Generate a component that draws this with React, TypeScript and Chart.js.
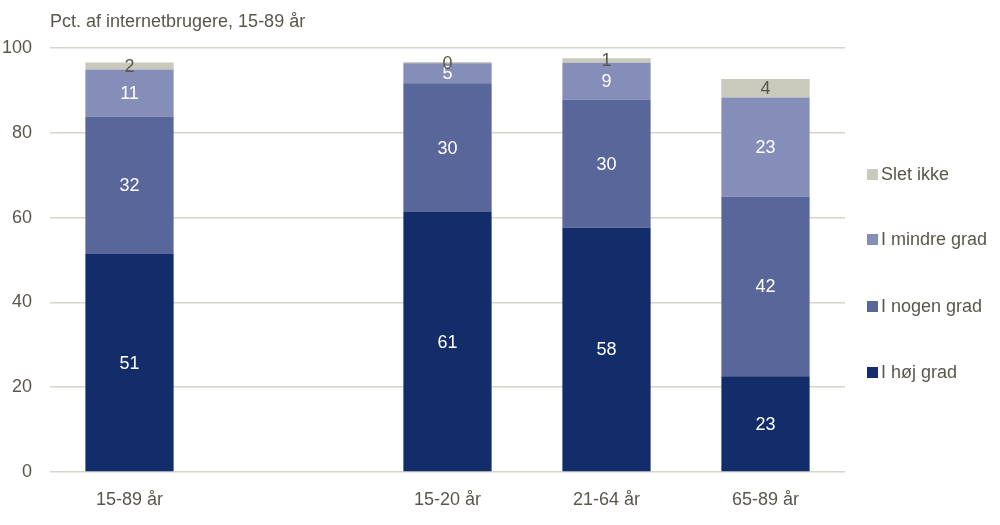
import React, { useEffect, useRef } from "react";
import { Chart, registerables } from "chart.js";

Chart.register(...registerables);

const categories = ["15-89 år", "", "15-20 år", "21-64 år", "65-89 år"];
const hojGrad = [51.4, null, 61.3, 57.6, 22.6];
const nogenGrad = [32.4, null, 30.4, 30.2, 42.3];
const mindreGrad = [11.1, null, 4.7, 8.7, 23.4];
const sletIkke = [1.7, null, 0.3, 1.1, 4.4];
const seriesNames = ["I høj grad", "I nogen grad", "I mindre grad", "Slet ikke"];
const seriesColors = ["#122D69", "#59669A", "#858DB9", "#C9C9BC"];
const labelColors = ["#FFFFFF", "#FFFFFF", "#FFFFFF", "#5A564C"];
const yTicks = [0, 20, 40, 60, 80, 100];
const title = "Pct. af internetbrugere, 15-89 år";

const FONT = "'Liberation Sans Narrow', 'Arial Narrow', 'Liberation Sans', Arial, sans-serif";
const TEXT = "#5A564C";

export default function App() {
  const ref = useRef<HTMLCanvasElement>(null);
  useEffect(() => {
    if (!ref.current) return;
    const seriesData = [hojGrad, nogenGrad, mindreGrad, sletIkke];
    const labelsPlugin = {
      id: "customLabels",
      afterDatasetsDraw(chart: any) {
        const ctx = chart.ctx;
        ctx.save();
        ctx.font = `18px ${FONT}`;
        ctx.textAlign = "center";
        ctx.textBaseline = "middle";
        chart.data.datasets.forEach((ds: any, i: number) => {
          const meta = chart.getDatasetMeta(i);
          meta.data.forEach((el: any, j: number) => {
            const v = ds.data[j];
            if (v === null || v === undefined) return;
            const props = el.getProps(["x", "y", "base"], true);
            ctx.fillStyle = labelColors[i];
            ctx.fillText(String(Math.round(v)), props.x, (props.y + props.base) / 2 + 1);
          });
        });
        // title
        ctx.textAlign = "left";
        ctx.textBaseline = "alphabetic";
        ctx.fillStyle = TEXT;
        ctx.font = `18px ${FONT}`;
        ctx.fillText(title, 50, 27);
        // legend
        const legendYs = [373, 307, 240, 175];
        seriesNames.forEach((name, i) => {
          const y = legendYs[i];
          ctx.fillStyle = seriesColors[i];
          ctx.fillRect(867, y - 6, 11, 11);
          ctx.fillStyle = TEXT;
          ctx.textBaseline = "middle";
          ctx.font = `18px ${FONT}`;
          ctx.fillText(name, 881, y);
        });
        ctx.restore();
      },
    };
    const chart = new Chart(ref.current, {
      type: "bar",
      data: {
        labels: categories,
        datasets: seriesData.map((d, i) => ({
          label: seriesNames[i],
          data: d as any,
          backgroundColor: seriesColors[i],
          borderWidth: 0,
          categoryPercentage: 1,
          barPercentage: 0.555,
        })),
      },
      options: {
        animation: false,
        responsive: false,
        maintainAspectRatio: false,
        layout: { padding: { top: 48, right: 155, left: 0, bottom: 0 } },
        plugins: { legend: { display: false }, tooltip: { enabled: false } },
        scales: {
          x: {
            stacked: true,
            grid: { display: false },
            border: { display: false },
            ticks: { color: TEXT, font: { family: FONT, size: 18 }, padding: 9 },
            afterFit: (s: any) => { s.height = 53; },
          },
          y: {
            stacked: true,
            min: 0,
            max: 100,
            afterBuildTicks: (s: any) => { s.ticks = yTicks.map((v) => ({ value: v })); },
            grid: { color: "#D6D4CB", lineWidth: 1.6, drawTicks: false },
            border: { display: false },
            ticks: { color: TEXT, font: { family: FONT, size: 18 }, padding: 18 },
            afterFit: (s: any) => { s.width = 50; },
          },
        },
      },
      plugins: [labelsPlugin],
    });
    return () => chart.destroy();
  }, []);
  return (
    <div style={{ position: "fixed", left: 0, top: 0, width: 1000, height: 525, background: "#fff" }}>
      <canvas ref={ref} width={1000} height={525} style={{ width: 1000, height: 525 }} />
    </div>
  );
}
